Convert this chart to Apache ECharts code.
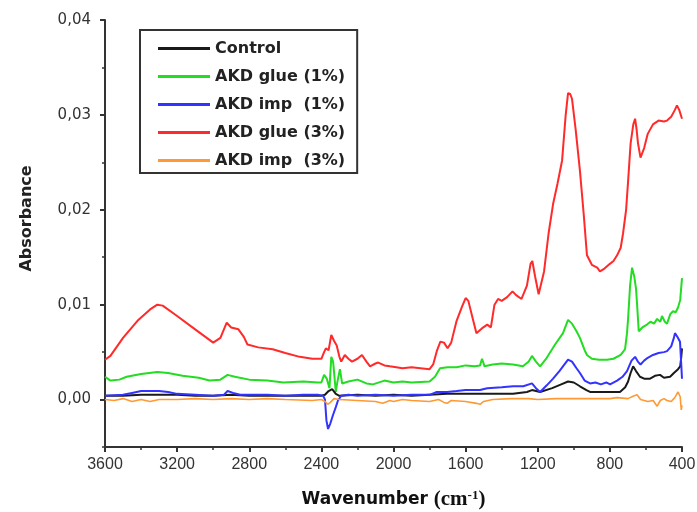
<!DOCTYPE html>
<html>
<head>
<meta charset="utf-8">
<script src="https://cdn.jsdelivr.net/npm/echarts@6/dist/echarts.min.js"></script>
<style>html,body{margin:0;padding:0;background:#fff;}#c{width:697px;height:512px;}</style>
</head>
<body>
<div id="c"></div>
<script>
var seriesNames = ['Control', 'AKD glue (1%)', 'AKD imp  (1%)', 'AKD glue (3%)', 'AKD imp  (3%)'];
var xTickLabels = [3600, 3200, 2800, 2400, 2000, 1600, 1200, 800, 400];
var yTickValues = [0, 0.01, 0.02, 0.03, 0.04];
var yMinorTicks = [-0.005, 0.005, 0.015, 0.025, 0.035];

var controlWn  = [3600,3500,3400,3300,3200,3100,3000,2900,2800,2600,2450,2400,2380,2360,2340,2320,2300,2200,2100,2000,1900,1800,1703,1600,1500,1400,1337,1260,1232,1187,1120,1070,1032,1000,966,930,910,850,800,744,715,699,685,671,655,633,610,577,550,522,500,466,445,422,410,404,400];
var controlAbs = [0.0004,0.0004,0.0005,0.0005,0.0005,0.0004,0.0004,0.0005,0.0004,0.0004,0.0004,0.0004,0.0005,0.0009,0.0011,0.0006,0.0004,0.0005,0.0004,0.0005,0.0004,0.0005,0.0006,0.0006,0.0006,0.0006,0.0006,0.0008,0.0010,0.0008,0.0012,0.0016,0.0019,0.0018,0.0014,0.0010,0.0008,0.0008,0.0008,0.0008,0.0013,0.0019,0.0028,0.0035,0.0030,0.0024,0.0022,0.0022,0.0025,0.0026,0.0023,0.0024,0.0028,0.0032,0.0035,0.0045,0.0054];

var glue1Wn  = [3600,3570,3520,3480,3400,3310,3250,3170,3080,3020,2960,2920,2880,2800,2700,2610,2500,2420,2400,2385,2370,2355,2345,2335,2320,2310,2297,2285,2250,2200,2150,2114,2050,2000,1950,1900,1800,1770,1742,1700,1650,1600,1550,1520,1509,1495,1450,1400,1337,1282,1250,1232,1210,1187,1150,1104,1060,1032,1010,985,966,940,927,900,860,816,780,740,716,705,699,688,677,665,655,649,640,620,594,575,555,538,520,511,495,483,465,450,435,422,410,400];
var glue1Abs = [0.0024,0.0020,0.0021,0.0024,0.0027,0.0029,0.0028,0.0025,0.0023,0.0020,0.0021,0.0026,0.0024,0.0021,0.0020,0.0018,0.0019,0.0018,0.0018,0.0026,0.0022,0.0012,0.0045,0.0040,0.0008,0.0020,0.0032,0.0017,0.0019,0.0021,0.0017,0.0016,0.0020,0.0018,0.0019,0.0018,0.0019,0.0024,0.0033,0.0034,0.0034,0.0036,0.0035,0.0036,0.0043,0.0035,0.0037,0.0038,0.0037,0.0035,0.0040,0.0046,0.0040,0.0035,0.0044,0.0058,0.0070,0.0084,0.0080,0.0072,0.0065,0.0052,0.0047,0.0043,0.0042,0.0042,0.0043,0.0047,0.0053,0.0070,0.0085,0.0120,0.0139,0.0130,0.0117,0.0100,0.0072,0.0076,0.0079,0.0082,0.0080,0.0085,0.0082,0.0088,0.0082,0.0080,0.0090,0.0093,0.0092,0.0097,0.0105,0.0128];

var imp1Wn  = [3600,3500,3450,3400,3300,3250,3200,3100,3000,2940,2920,2890,2850,2700,2600,2500,2420,2390,2380,2372,2363,2350,2335,2320,2308,2290,2250,2200,2100,2000,1900,1800,1760,1703,1650,1600,1520,1480,1400,1337,1280,1232,1210,1187,1150,1115,1080,1032,1010,985,966,940,910,880,850,820,799,760,730,705,680,660,645,630,610,590,561,530,500,483,460,445,439,425,411,405,400];
var imp1Abs = [0.0004,0.0005,0.0007,0.0009,0.0009,0.0008,0.0006,0.0005,0.0004,0.0005,0.0009,0.0007,0.0005,0.0005,0.0004,0.0005,0.0005,0.0004,0.0000,-0.0022,-0.0031,-0.0025,-0.0016,-0.0008,-0.0001,0.0004,0.0005,0.0004,0.0005,0.0004,0.0005,0.0005,0.0008,0.0008,0.0009,0.0010,0.0010,0.0012,0.0013,0.0014,0.0014,0.0017,0.0012,0.0008,0.0015,0.0022,0.0030,0.0042,0.0040,0.0033,0.0028,0.0020,0.0017,0.0018,0.0016,0.0018,0.0016,0.0020,0.0024,0.0030,0.0041,0.0045,0.0040,0.0037,0.0041,0.0044,0.0047,0.0049,0.0050,0.0051,0.0056,0.0065,0.0070,0.0066,0.0061,0.0040,0.0022];

var glue3Wn  = [3600,3570,3500,3420,3350,3310,3280,3200,3100,3000,2960,2925,2900,2860,2830,2810,2750,2670,2600,2520,2450,2400,2385,2375,2360,2345,2330,2315,2300,2290,2270,2250,2230,2200,2175,2150,2130,2100,2085,2050,2020,1950,1900,1850,1800,1780,1760,1740,1720,1700,1680,1650,1620,1600,1585,1560,1540,1510,1480,1460,1440,1420,1400,1370,1340,1320,1290,1260,1240,1230,1215,1195,1185,1165,1140,1115,1090,1065,1045,1032,1020,1010,990,966,945,927,900,870,855,830,800,780,760,740,727,710,699,685,670,660,652,644,630,622,610,590,561,530,500,483,460,440,428,415,400];
var glue3Abs = [0.0042,0.0046,0.0065,0.0083,0.0095,0.0100,0.0099,0.0088,0.0074,0.0060,0.0065,0.0081,0.0076,0.0074,0.0066,0.0058,0.0055,0.0053,0.0049,0.0045,0.0043,0.0043,0.0050,0.0054,0.0052,0.0068,0.0062,0.0057,0.0045,0.0040,0.0047,0.0043,0.0040,0.0043,0.0047,0.0040,0.0035,0.0038,0.0039,0.0036,0.0035,0.0033,0.0034,0.0033,0.0032,0.0037,0.0051,0.0061,0.0060,0.0054,0.0060,0.0083,0.0098,0.0107,0.0104,0.0085,0.0070,0.0075,0.0079,0.0076,0.0100,0.0106,0.0104,0.0108,0.0114,0.0110,0.0106,0.0120,0.0143,0.0146,0.0130,0.0111,0.0109,0.0135,0.0175,0.0206,0.0228,0.0252,0.0300,0.0323,0.0322,0.0317,0.0285,0.0241,0.0195,0.0152,0.0142,0.0139,0.0135,0.0138,0.0143,0.0146,0.0152,0.0160,0.0175,0.0200,0.0230,0.0270,0.0290,0.0296,0.0285,0.0270,0.0255,0.0254,0.0265,0.0280,0.0290,0.0294,0.0293,0.0294,0.0298,0.0305,0.0310,0.0305,0.0296];

var imp3Wn  = [3600,3550,3500,3450,3400,3350,3300,3200,3100,3000,2900,2800,2700,2600,2450,2400,2380,2365,2350,2330,2300,2200,2100,2060,2020,2000,1950,1900,1800,1750,1720,1703,1680,1600,1540,1520,1500,1450,1350,1250,1200,1100,1000,900,800,760,700,665,649,630,610,590,560,538,520,500,483,460,440,422,410,404,400];
var imp3Abs = [0.0000,-0.0001,0.0001,-0.0002,0.0000,-0.0002,0.0000,0.0000,0.0001,0.0000,0.0001,0.0000,0.0001,0.0000,-0.0001,0.0000,-0.0002,-0.0005,-0.0003,0.0001,0.0000,-0.0001,-0.0002,-0.0004,-0.0001,-0.0002,0.0000,-0.0001,-0.0002,0.0000,-0.0003,-0.0004,-0.0001,-0.0002,-0.0004,-0.0005,-0.0002,0.0000,0.0001,0.0001,0.0000,0.0001,0.0001,0.0001,0.0001,0.0002,0.0001,0.0004,0.0005,0.0000,-0.0001,-0.0002,-0.0001,-0.0007,-0.0001,0.0001,-0.0001,-0.0002,0.0002,0.0008,0.0003,-0.0011,-0.0006];

var seriesColors = ['#1a1a1a', '#22dd22', '#3333ff', '#ff2a2a', '#ff9933'];

function pairs(xs, ys) { return xs.map(function (x, i) { return [x, ys[i]]; }); }
var allData = [
  pairs(controlWn, controlAbs),
  pairs(glue1Wn, glue1Abs),
  pairs(imp1Wn, imp1Abs),
  pairs(glue3Wn, glue3Abs),
  pairs(imp3Wn, imp3Abs)
];
var widths = [2, 2, 2, 2, 1.6];

var chart = echarts.init(document.getElementById('c'), null, { renderer: 'canvas' });
var axisColor = '#333';

chart.setOption({
  animation: false,
  backgroundColor: '#fff',
  grid: { left: 105, right: 15, top: 20, bottom: 65, containLabel: false, outerBoundsMode: 'none' },
  legend: {
    data: seriesNames,
    orient: 'vertical',
    left: 140,
    top: 30,
    backgroundColor: '#fff',
    borderColor: '#333',
    borderWidth: 2,
    padding: [8, 12, 2, 18],
    itemGap: 7,
    itemWidth: 52,
    itemHeight: 3,
    icon: 'rect',
    textStyle: { color: '#222', fontFamily: 'DejaVu Sans, sans-serif', fontWeight: 'bold', fontSize: 16, lineHeight: 21 }
  },
  xAxis: {
    type: 'value',
    min: 400,
    max: 3600,
    interval: 400,
    inverse: true,
    name: '{a|Wavenumber }{b|(cm}{c|-1}{b|)}',
    nameLocation: 'middle',
    nameGap: 42,
    nameTextStyle: {
      rich: {
        a: { fontFamily: 'DejaVu Sans, sans-serif', fontWeight: 'bold', fontSize: 17, color: '#111' },
        b: { fontFamily: 'Liberation Serif, serif', fontWeight: 'bold', fontSize: 21, color: '#111' },
        c: { fontFamily: 'Liberation Serif, serif', fontWeight: 'bold', fontSize: 13, color: '#111', verticalAlign: 'top', padding: [0, 0, 8, 0] }
      }
    },
    axisLine: { show: true, onZero: false, lineStyle: { color: axisColor, width: 2 } },
    axisTick: { show: true, length: 5, lineStyle: { color: axisColor, width: 2 } },
    minorTick: { show: true, splitNumber: 2, length: 3, lineStyle: { color: axisColor, width: 1.5 } },
    splitLine: { show: false },
    axisLabel: {
      margin: 10, customValues: xTickLabels,
      formatter: function (v) { return String(v); },
      color: '#333', fontFamily: 'Liberation Sans, Arial, sans-serif', fontSize: 16
    }
  },
  yAxis: [{
    type: 'value',
    min: -0.005,
    max: 0.04,
    name: 'Absorbance',
    nameLocation: 'middle',
    nameGap: 70,
    nameTextStyle: { fontFamily: 'DejaVu Sans, sans-serif', fontWeight: 'bold', fontSize: 16, color: '#222', padding: [0, 0, 0, 30] },
    axisLine: { show: true, onZero: false, lineStyle: { color: axisColor, width: 2 } },
    axisTick: { show: true, length: 5, customValues: yTickValues, lineStyle: { color: axisColor, width: 2 } },
    splitLine: { show: false },
    axisLabel: {
      margin: 14, customValues: yTickValues,
      formatter: function (v) { return v.toFixed(2).replace('.', ','); },
      color: '#333', fontFamily: 'DejaVu Sans, sans-serif', fontSize: 15
    }
  }, {
    type: 'value',
    min: -0.005,
    max: 0.04,
    position: 'left',
    axisLine: { show: false },
    axisTick: { show: true, length: 3, customValues: yMinorTicks, lineStyle: { color: axisColor, width: 1.5 } },
    axisLabel: { show: false },
    splitLine: { show: false }
  }],
  series: allData.map(function (d, i) {
    return {
      name: seriesNames[i],
      type: 'line',
      yAxisIndex: 0,
      data: d,
      showSymbol: false,
      symbol: 'none',
      color: seriesColors[i],
      lineStyle: { color: seriesColors[i], width: widths[i] },
      z: [3, 2, 4, 5, 6][i]
    };
  })
});
</script>
</body>
</html>
